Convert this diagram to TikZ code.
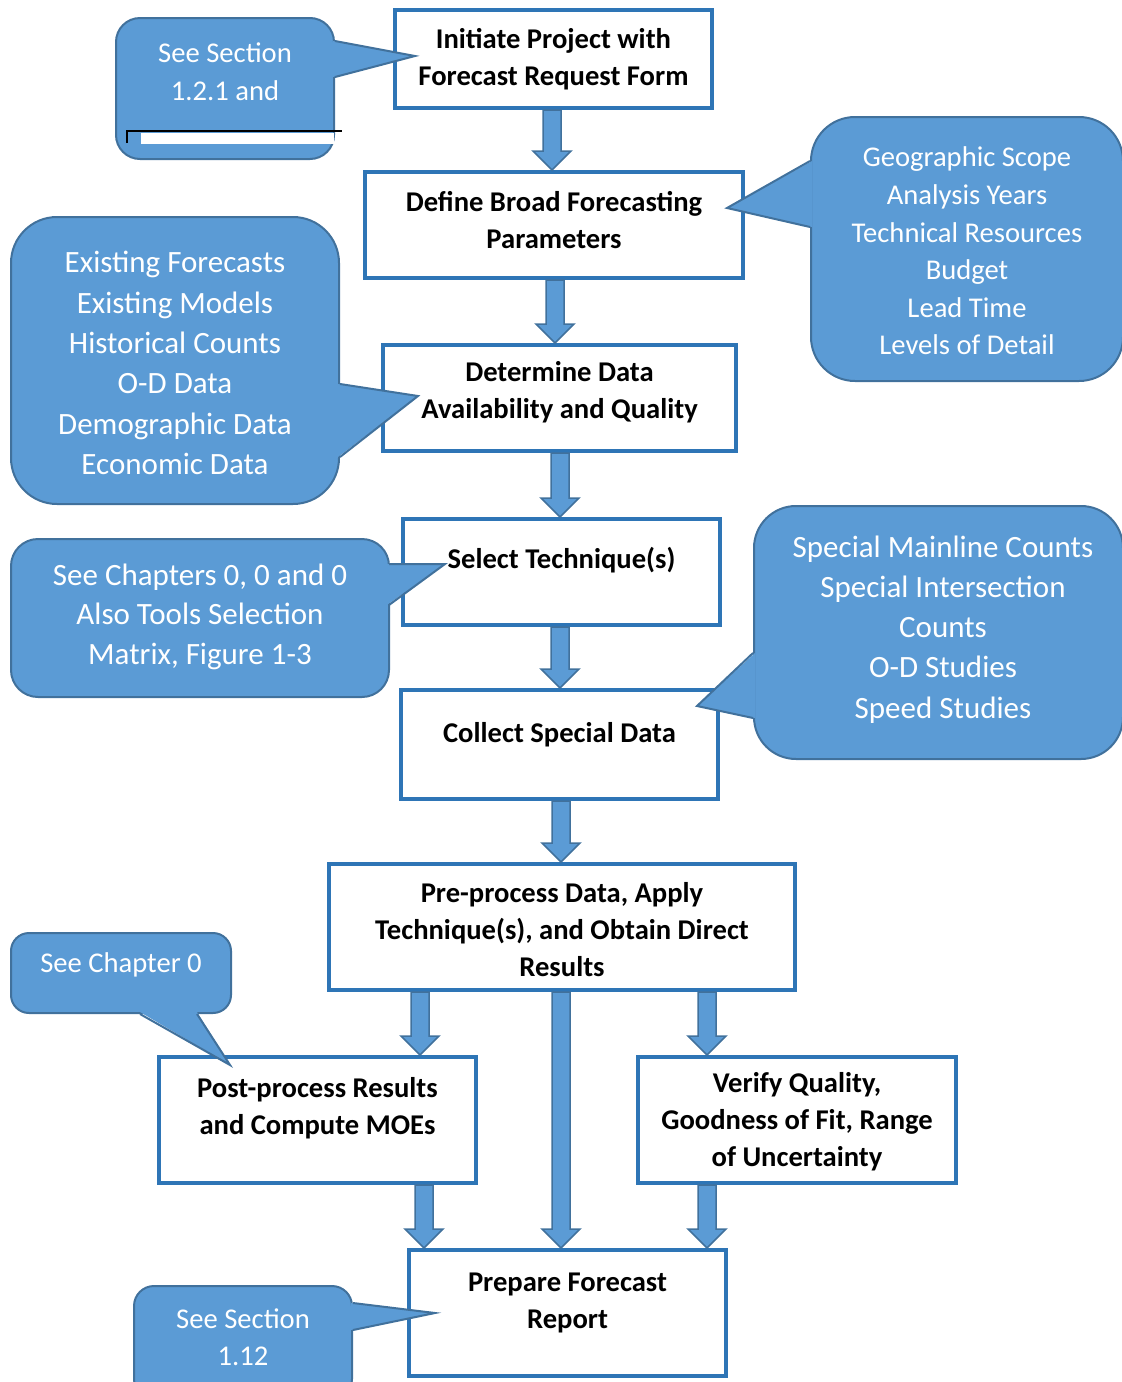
\documentclass[tikz,border=0pt]{standalone}
\usepackage{fontspec}
\setmainfont{Carlito}
\usetikzlibrary{calc}
\definecolor{boxblue}{HTML}{2E75B6}
\definecolor{cfill}{HTML}{5B9BD5}
\definecolor{cedge}{HTML}{41719C}
\tikzset{
  box/.style={draw=boxblue, line width=4pt, fill=white, inner sep=0pt},
  boxlabel/.style={font=\fontsize{28.6}{37}\selectfont\bfseries, align=center, text=black, inner sep=0pt},
  callbox/.style={draw=cedge, fill=cfill, line width=2pt, inner sep=0pt},
  calllabel/.style={font=\fontsize{31}{40}\selectfont, align=center, text=white, inner sep=0pt},
  barrow/.style={fill=cfill, draw=cedge, line width=1.5pt, line join=miter},
  pfill/.style={fill=cfill},
  pedge/.style={draw=cedge, line width=2pt, line join=miter},
}
\newcommand\blkarrow[3]{%
  \draw[barrow] let \p1=(#2.south), \p2=(#3.north) in
    (#1pt-9pt,\y1) -- (#1pt-9pt,\y2+19pt) -- (#1pt-19pt,\y2+19pt) -- (#1pt,\y2)
    -- (#1pt+19pt,\y2+19pt) -- (#1pt+9pt,\y2+19pt) -- (#1pt+9pt,\y1) -- cycle;}
\begin{document}
\begin{tikzpicture}[x=1pt,y=-1pt]
\useasboundingbox (0,0) rectangle (1122,1382);
\clip (0,0) rectangle (1122,1382);

% ---------- process boxes ----------
\node[box, minimum width=317pt, minimum height=98pt,
  label={[boxlabel]center:{Initiate Project with\\Forecast Request Form}}] (ini) at (553.5,59) {};
\node[box, minimum width=378pt, minimum height=106pt,
  label={[boxlabel, yshift=4.5pt]center:{Define Broad Forecasting\\Parameters}}] (def) at (554,225) {};
\node[box, minimum width=353pt, minimum height=106pt,
  label={[boxlabel, yshift=6pt]center:{Determine Data\\Availability and Quality}}] (det) at (559.5,398) {};
\node[box, minimum width=317pt, minimum height=106pt,
  label={[boxlabel, yshift=12pt]center:{Select Technique(s)}}] (sel) at (561.5,572) {};
\node[box, minimum width=317pt, minimum height=109pt,
  label={[boxlabel, yshift=10pt]center:{Collect Special Data}}] (col) at (559.5,744.5) {};
\node[box, minimum width=466pt, minimum height=126pt,
  label={[boxlabel, yshift=-3pt]center:{Pre-process Data, Apply\\Technique(s), and Obtain Direct\\Results}}] (pre) at (562,927) {};
\node[box, minimum width=317pt, minimum height=126pt,
  label={[boxlabel, yshift=11.5pt]center:{Post-process Results\\and Compute MOEs}}] (post) at (317.5,1120) {};
\node[box, minimum width=318pt, minimum height=126pt,
  label={[boxlabel, yshift=-2pt]center:{Verify Quality,\\Goodness of Fit, Range\\of Uncertainty}}] (ver) at (797,1120) {};
\node[box, minimum width=317pt, minimum height=126pt,
  label={[boxlabel, yshift=10.5pt]center:{Prepare Forecast\\Report}}] (prep) at (567.5,1313) {};

% ---------- block arrows ----------
\blkarrow{552}{ini}{def}
\blkarrow{555}{def}{det}
\blkarrow{560}{det}{sel}
\blkarrow{560}{sel}{col}
\blkarrow{561}{col}{pre}
\blkarrow{420}{pre}{post}
\blkarrow{561}{pre}{prep}
\blkarrow{707}{pre}{ver}
\blkarrow{424}{post}{prep}
\blkarrow{707}{ver}{prep}

% ---------- callouts ----------
% C1
\node[callbox, rounded corners=24pt, minimum width=218pt, minimum height=141pt,
  label={[calllabel, font=\fontsize{28.6}{38}\selectfont, yshift=16.5pt]center:{See Section\\1.2.1 and}}] (c1) at (225,88.5) {};
\fill[pfill] (333,41) -- (415,56) -- (333,77) -- cycle;
\draw[pedge] (335,41) -- (415,56) -- (335,77);
\fill[white] (141,133) rectangle (334,144);
\draw[black, line width=1.5pt] (127,143) -- (127,131) -- (342,131);

% C2
\node[callbox, rounded corners=44pt, minimum width=312pt, minimum height=264pt,
  label={[calllabel, font=\fontsize{28.6}{37.6}\selectfont, yshift=-2pt]center:{Geographic Scope\\Analysis Years\\Technical Resources\\Budget\\Lead Time\\Levels of Detail}}] (c2) at (967,249) {};
\fill[pfill] (812,161) -- (727,208) -- (812,227) -- cycle;
\draw[pedge] (810,161) -- (727,208) -- (810,227);

% C3
\node[callbox, rounded corners=46pt, minimum width=328pt, minimum height=287pt,
  label={[calllabel, font=\fontsize{31}{40.4}\selectfont, yshift=-2.5pt]center:{Existing Forecasts\\Existing Models\\Historical Counts\\O-D Data\\Demographic Data\\Economic Data}}] (c3) at (175,360.5) {};
\fill[pfill] (338,384) -- (418,396) -- (338,457) -- cycle;
\draw[pedge] (340,384) -- (418,396) -- (340,457);

% C4
\node[callbox, rounded corners=27pt, minimum width=378pt, minimum height=158pt,
  label={[calllabel, font=\fontsize{31}{39.5}\selectfont, yshift=1.5pt]center:{See Chapters 0, 0 and 0\\Also Tools Selection\\Matrix, Figure 1-3}}] (c4) at (200,618) {};
\fill[pfill] (387,564) -- (445,564) -- (387,605) -- cycle;
\draw[pedge] (389,564) -- (445,564) -- (389,605);

% C5
\node[callbox, rounded corners=42pt, minimum width=369pt, minimum height=253pt,
  label={[calllabel, font=\fontsize{31}{40.2}\selectfont, xshift=4.5pt, yshift=3pt]center:{Special Mainline Counts\\Special Intersection\\Counts\\O-D Studies\\Speed Studies}}] (c5) at (938.5,632.5) {};
\fill[pfill] (755,653) -- (697,706) -- (755,718) -- cycle;
\draw[pedge] (753,653) -- (697,706) -- (753,718);

% C6
\node[callbox, rounded corners=18pt, minimum width=220pt, minimum height=80pt,
  label={[calllabel, font=\fontsize{28.6}{37}\selectfont, yshift=8pt]center:{See Chapter 0}}] (c6) at (121,973) {};
\fill[pfill] (140,1012) -- (230,1065) -- (197,1012) -- cycle;
\draw[pedge] (140,1014) -- (230,1065) -- (197,1014);

% C7
\node[callbox, rounded corners=20pt, minimum width=218pt, minimum height=113pt,
  label={[calllabel, font=\fontsize{28.6}{37}\selectfont, yshift=5pt]center:{See Section\\1.12}}] (c7) at (243,1342.5) {};
\fill[pfill] (351,1303) -- (435,1313) -- (351,1330) -- cycle;
\draw[pedge] (353,1303) -- (435,1313) -- (353,1330);
\end{tikzpicture}
\end{document}
